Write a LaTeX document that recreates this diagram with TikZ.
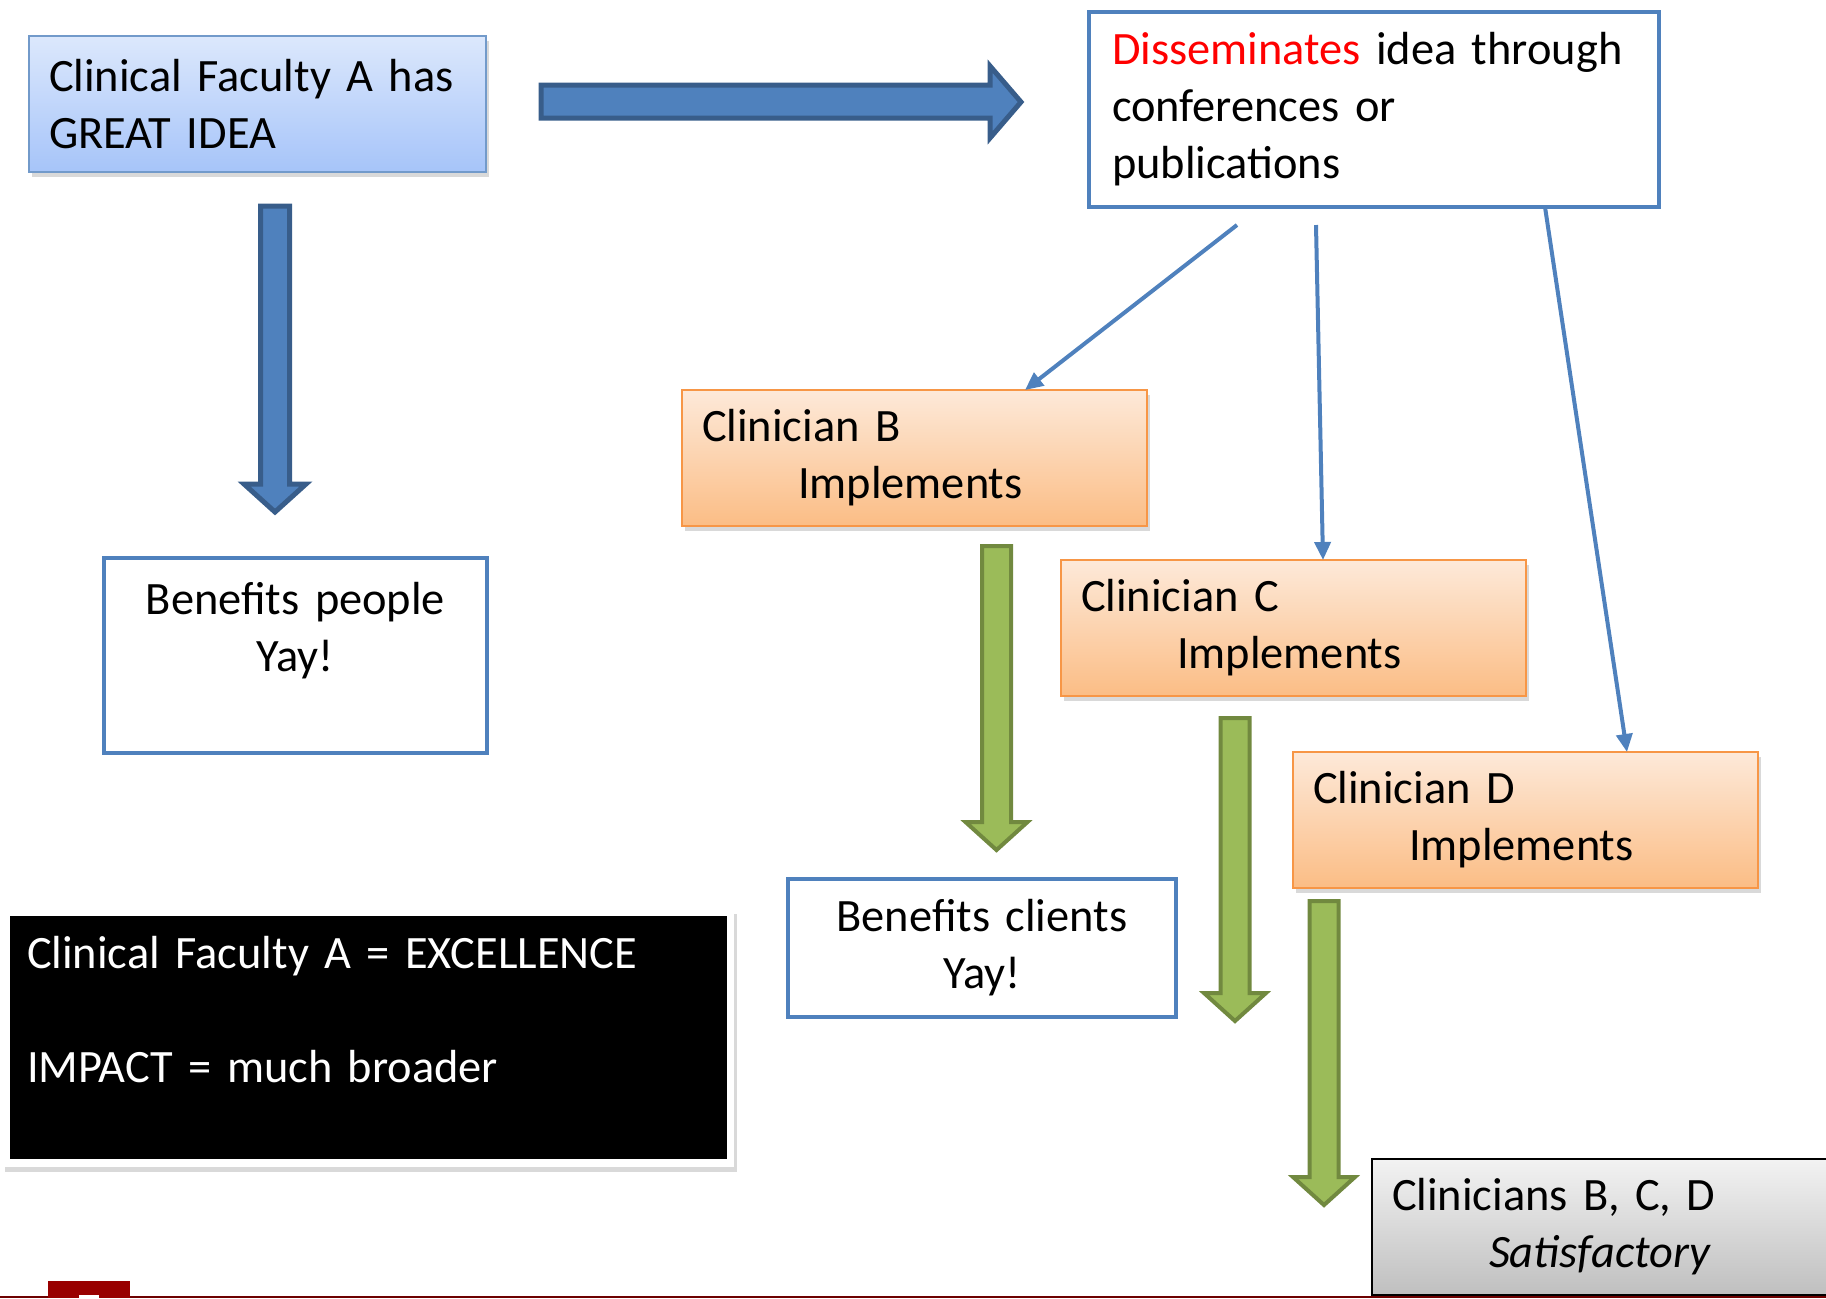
\documentclass[tikz,border=0pt]{standalone}
\usepackage{fontspec}
\setmainfont{Carlito}
\usetikzlibrary{arrows.meta,calc,shadows}
\definecolor{ppblue}{HTML}{4F81BD}
\definecolor{ppbluedark}{HTML}{385D8A}
\definecolor{ppskytop}{HTML}{DCE8FC}
\definecolor{ppskybot}{HTML}{A6C4F9}
\definecolor{ppgreen}{HTML}{9BBB59}
\definecolor{ppgreendark}{HTML}{71893F}
\definecolor{pporange}{HTML}{F79646}
\definecolor{pppeachtop}{HTML}{FDE9D9}
\definecolor{pppeachbot}{HTML}{FBBD85}
\definecolor{ppred}{HTML}{990000}
\definecolor{ppmaroon}{HTML}{6E0000}
\newcommand{\boxfont}{\fontsize{23.2}{28.5}\selectfont}
\newcommand{\fatdown}[4]{%
  \draw[#1] (#2-14.5,#3) -- (#2+14.5,#3) -- (#2+14.5,#4-28) -- (#2+31,#4-28) -- (#2,#4)
    -- (#2-31,#4-28) -- (#2-14.5,#4-28) -- cycle;}
\tikzset{
  box/.style={anchor=north west,inner xsep=10pt,inner ysep=0pt,outer sep=0pt,align=left,font=\boxfont},
  shade/.style={drop shadow={shadow xshift=1.5pt,shadow yshift=-2.5pt,opacity=0.3}},
  outline/.style={box,draw=ppblue,line width=2pt,fill=white},
  clinician/.style={box,draw=pporange,line width=1pt,top color=pppeachtop,bottom color=pppeachbot,shade,
    text width=212.5pt,minimum height=68pt},
  bluearrow/.style={fill=ppblue,draw=ppbluedark,line width=2.5pt,miter limit=10},
  greenarrow/.style={fill=ppgreen,draw=ppgreendark,line width=2pt,miter limit=10},
  link/.style={draw=ppblue,line width=2pt,-{Triangle[length=9pt,width=8pt]}}
}
\begin{document}
\begin{tikzpicture}[x=0.5pt,y=-0.5pt]
  \useasboundingbox (0,0) rectangle (1826,1298);
  \clip (0,0) rectangle (1826,1298);
  \node[box,draw=ppblue!80,line width=1pt,top color=ppskytop,bottom color=ppskybot,shade,
    text width=208.5pt,minimum height=68pt] (idea) at (29,36) {Clinical Faculty A has\\GREAT IDEA};
  \node[outline,inner xsep=11.5pt,text width=262pt,minimum height=97.5pt] (dissem) at (1089,12)
    {\textcolor{red}{Disseminates} idea through\\conferences or\\publications};
  \node[outline,align=center,text width=171.5pt,minimum height=97.5pt] (people) at (104,558)
    {Benefits people\\Yay!\\\mbox{}};
  \node[clinician] (cB) at (682,390) {Clinician B\\\hspace*{48pt}Implements};
  \node[clinician] (cC) at (1061,560) {Clinician C\\\hspace*{48pt}Implements};
  \node[clinician] (cD) at (1293,752) {Clinician D\\\hspace*{48pt}Implements};
  \node[outline,align=center,text width=174pt,minimum height=69pt] (clients) at (788,879)
    {Benefits clients\\Yay!};
  \fill[white,shade] (2,909) rectangle (734,1167);
  \node[box,fill=black,text=white,inner xsep=8.5pt,text width=341.5pt,minimum height=121.5pt] (summary) at (10,916)
    {Clinical Faculty A = EXCELLENCE\\\mbox{}\\IMPACT = much broader\\\mbox{}};
  \node[box,draw=black,line width=1pt,top color=black!5,bottom color=black!25,
    text width=209pt,minimum height=68pt] (sat) at (1372,1159)
    {Clinicians B, C, D\\\hspace*{48.5pt}\textit{Satisfactory}};
  \draw[bluearrow] (541,85) -- (990,85) -- (990,66) -- (1021,102) -- (990,138) -- (990,118) -- (541,118) -- cycle;
  \fatdown{bluearrow}{275}{206}{512}
  \fatdown{greenarrow}{996.5}{546}{850}
  \fatdown{greenarrow}{1235}{718}{1021}
  \fatdown{greenarrow}{1324}{901}{1205}
  \draw[link] ($(dissem.south west)+(148,18)$) -- ($(cB.north west)+(343,0)$);
  \draw[link] ($(dissem.south west)+(227,18)$) -- ($(cC.north west)+(262,0)$);
  \draw[link] ($(dissem.south west)+(456,0)$) -- ($(cD.north west)+(334,0)$);
  \fill[ppmaroon] (0,1296) rectangle (1826,1298);
  \fill[ppred] (48,1281) rectangle (130,1298);
  \fill[white] (79,1295) rectangle (99,1298);
\end{tikzpicture}
\end{document}
